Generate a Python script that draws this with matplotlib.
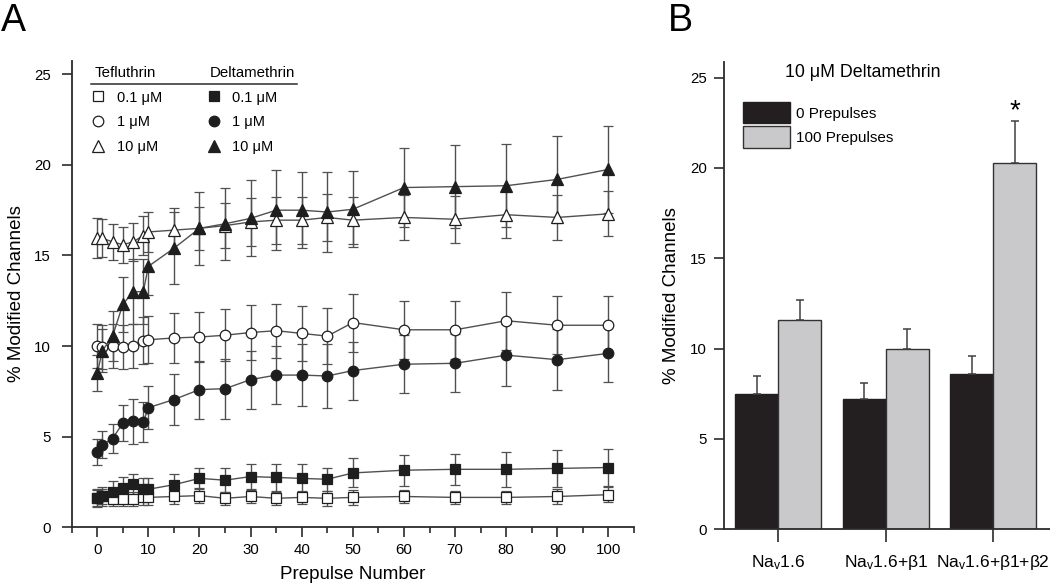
import numpy as np
import matplotlib
matplotlib.use("Agg")
import matplotlib.pyplot as plt
from matplotlib.lines import Line2D
from matplotlib.patches import Patch
from matplotlib.ticker import MultipleLocator

plt.rcParams['font.family'] = ['Liberation Sans', 'DejaVu Sans']
plt.rcParams['mathtext.default'] = 'regular'

# ---- panel A data: % modified channels vs prepulse number ----
prepulses = [0, 1, 3, 5, 7, 9, 10, 15, 20, 25, 30, 35, 40, 45, 50, 60, 70, 80, 90, 100]

teflu_01 = [1.6, 1.7, 1.55, 1.55, 1.55, 1.65, 1.65, 1.7, 1.75, 1.6, 1.7, 1.6, 1.65, 1.6, 1.65, 1.7, 1.65, 1.65, 1.7, 1.8]
teflu_01_err = [0.45, 0.4, 0.4, 0.4, 0.4, 0.4, 0.4, 0.4, 0.4, 0.35, 0.35, 0.35, 0.35, 0.4, 0.4, 0.35, 0.35, 0.35, 0.4, 0.4]

teflu_1 = [10.0, 9.95, 10.0, 9.95, 10.0, 10.3, 10.35, 10.45, 10.5, 10.6, 10.75, 10.85, 10.7, 10.55, 11.3, 10.9, 10.9, 11.4, 11.15, 11.15]
teflu_1_err = [1.2, 1.2, 1.2, 1.2, 1.2, 1.3, 1.3, 1.4, 1.4, 1.45, 1.5, 1.5, 1.5, 1.55, 1.6, 1.6, 1.6, 1.6, 1.6, 1.6]

teflu_10 = [15.95, 15.95, 15.75, 15.6, 15.75, 16.1, 16.3, 16.4, 16.5, 16.65, 16.85, 16.95, 16.95, 17.1, 16.95, 17.1, 17.0, 17.25, 17.1, 17.3]
teflu_10_err = [1.1, 1.05, 1.0, 1.0, 1.05, 1.1, 1.1, 1.2, 1.2, 1.25, 1.3, 1.3, 1.3, 1.3, 1.3, 1.25, 1.3, 1.3, 1.25, 1.25]

delta_01 = [1.6, 1.7, 1.95, 2.15, 2.4, 2.1, 2.1, 2.35, 2.7, 2.6, 2.8, 2.75, 2.7, 2.65, 3.0, 3.15, 3.2, 3.2, 3.25, 3.3]
delta_01_err = [0.5, 0.55, 0.6, 0.6, 0.55, 0.6, 0.6, 0.6, 0.6, 0.65, 0.7, 0.75, 0.8, 0.65, 0.8, 0.85, 0.85, 0.95, 1.0, 1.0]

delta_1 = [4.15, 4.55, 4.9, 5.75, 5.85, 5.8, 6.6, 7.05, 7.6, 7.65, 8.15, 8.4, 8.4, 8.35, 8.65, 9.0, 9.05, 9.5, 9.25, 9.6]
delta_1_err = [0.7, 0.75, 0.8, 1.0, 1.25, 1.1, 1.2, 1.4, 1.6, 1.65, 1.6, 1.6, 1.7, 1.75, 1.6, 1.6, 1.6, 1.7, 1.7, 1.6]

delta_10 = [8.5, 9.75, 10.55, 12.3, 13.0, 13.0, 14.4, 15.4, 16.5, 16.75, 17.05, 17.5, 17.5, 17.4, 17.55, 18.75, 18.8, 18.85, 19.2, 19.75]
delta_10_err = [1.0, 1.2, 1.4, 1.5, 1.8, 1.8, 1.6, 2.0, 2.0, 2.0, 2.1, 2.2, 2.1, 2.2, 2.1, 2.2, 2.3, 2.3, 2.4, 2.4]

conc_labels = ['0.1 \u03bcM', '1 \u03bcM', '10 \u03bcM']

# ---- panel B data ----
constructs = ['Na$_{v}$1.6', 'Na$_{v}$1.6+\u03b21', 'Na$_{v}$1.6+\u03b21+\u03b22']
zero_pp = [7.5, 7.2, 8.6]
zero_pp_err = [1.0, 0.9, 1.0]
hundred_pp = [11.6, 10.0, 20.3]
hundred_pp_err = [1.1, 1.1, 2.3]

W, H = 1050, 587
fig = plt.figure(figsize=(W / 100, H / 100), dpi=100)


def px(x, y):
    # pixel position (top-left origin) -> figure fraction
    return x / W, 1 - y / H


dark = '#1e1e1e'
line_c = '#505050'
spine_c = '#2b2b2b'


def style_axes(ax):
    for s in ['top', 'right']:
        ax.spines[s].set_visible(False)
    for s in ['left', 'bottom']:
        ax.spines[s].set_linewidth(1.3)
        ax.spines[s].set_color(spine_c)
    ax.tick_params(which='major', direction='out', length=7, width=1.2, color=spine_c)
    ax.tick_params(which='minor', direction='out', length=4, width=1.2, color=spine_c)


# ================= panel A =================
axA = fig.add_axes([71.7 / W, 1 - 527.3 / H, (634 - 71.7) / W, (527.3 - 60.7) / H])
style_axes(axA)

series = [
    (teflu_01, teflu_01_err, 's', 6.8, 'white'),
    (teflu_1, teflu_1_err, 'o', 7.6, 'white'),
    (teflu_10, teflu_10_err, '^', 8.6, 'white'),
    (delta_01, delta_01_err, 's', 6.8, dark),
    (delta_1, delta_1_err, 'o', 7.6, dark),
    (delta_10, delta_10_err, '^', 8.6, dark),
]
handles = []
for vals, errs, mk, ms, fc in series:
    axA.errorbar(prepulses, vals, yerr=errs, fmt='-', color=line_c, lw=1.0,
                 ecolor=line_c, elinewidth=1.0, capsize=3.6, capthick=1.0,
                 marker=mk, ms=ms, mfc=fc, mec=dark, mew=0.9)
    handles.append(Line2D([], [], ls='none', marker=mk, ms=ms, mfc=fc, mec=dark, mew=0.9))

axA.set_xlim(-5, 105)
axA.set_ylim(0, 25.75)
axA.xaxis.set_major_locator(MultipleLocator(10))
axA.xaxis.set_minor_locator(MultipleLocator(5))
axA.set_yticks([0, 5, 10, 15, 20, 25])
axA.tick_params(axis='x', which='major', labelsize=10.8, pad=4.5)
axA.tick_params(axis='y', labelsize=10.8, pad=8.0)
axA.set_xlabel('Prepulse Number', fontsize=13.5, labelpad=6)
axA.set_ylabel('% Modified Channels', fontsize=13.5, va='center')
axA.yaxis.set_label_coords((17 - 71.7) / (634 - 71.7), 0.5)

leg = axA.legend(handles, conc_labels * 2, ncol=2, frameon=False, fontsize=10.5,
                 loc='upper left', bbox_to_anchor=px(89.6, 90.5),
                 bbox_transform=fig.transFigure, borderpad=0, borderaxespad=0,
                 handlelength=1.2, handletextpad=0.66, columnspacing=2.95,
                 labelspacing=0.74)
fig.text(*px(95, 73.3), 'Tefluthrin', fontsize=10.8, va='center', ha='left')
fig.text(*px(210, 73.3), 'Deltamethrin', fontsize=10.8, va='center', ha='left')
x0, y0 = px(90.7, 84.3)
x1, _ = px(297, 84.3)
fig.add_artist(Line2D([x0, x1], [y0, y0], transform=fig.transFigure, color=spine_c, lw=1.1))

# ================= panel B =================
axB = fig.add_axes([724.3 / W, 1 - 529.3 / H, (W - 724.3) / W, (529.3 - 61.7) / H])
style_axes(axB)
xpos = np.arange(len(constructs))
bw = 0.4
ekw = dict(ecolor='#404040', elinewidth=1.1, capsize=2.6, capthick=1.1)
axB.bar(xpos - bw / 2, zero_pp, bw, color='#231f20', edgecolor='#231f20', lw=1,
        yerr=[np.zeros(len(zero_pp)), zero_pp_err], error_kw=ekw)
axB.bar(xpos + bw / 2, hundred_pp, bw, color='#c9c9cb', edgecolor='#333333', lw=1,
        yerr=[np.zeros(len(hundred_pp)), hundred_pp_err], error_kw=ekw)
axB.annotate('*', xy=(xpos[2] + bw / 2, hundred_pp[2] + hundred_pp_err[2]),
             xytext=(0, 2), textcoords='offset points', ha='center', va='baseline',
             fontsize=20)

axB.set_xlim(-0.502, 2.527)
axB.set_ylim(0, 25.88)
axB.set_yticks([0, 5, 10, 15, 20, 25])
axB.set_xticks(xpos)
axB.set_xticklabels(constructs)
axB.tick_params(axis='x', length=9, labelsize=12.5, pad=8)
axB.tick_params(axis='y', labelsize=10.8, pad=5.5)
axB.set_ylabel('% Modified Channels', fontsize=13.5, va='center')
axB.yaxis.set_label_coords((672 - 724.3) / (W - 724.3), 0.5)

legB = axB.legend([Patch(facecolor='#231f20', edgecolor='#231f20'),
                   Patch(facecolor='#c9c9cb', edgecolor='#333333')],
                  ['0 Prepulses', '100 Prepulses'], frameon=False, fontsize=11,
                  loc='upper left', bbox_to_anchor=px(743.3, 102.0),
                  bbox_transform=fig.transFigure, borderpad=0, borderaxespad=0,
                  handlelength=3.05, handleheight=1.75, handletextpad=0.4,
                  labelspacing=0.22)
fig.text(*px(863, 72.3), '10 \u03bcM Deltamethrin', fontsize=12.8, ha='center', va='center')

# panel letters
fig.text(*px(1, 31), 'A', fontsize=27, ha='left', va='baseline')
fig.text(*px(668, 31), 'B', fontsize=27, ha='left', va='baseline')

fig.savefig('out.png', dpi=100)
